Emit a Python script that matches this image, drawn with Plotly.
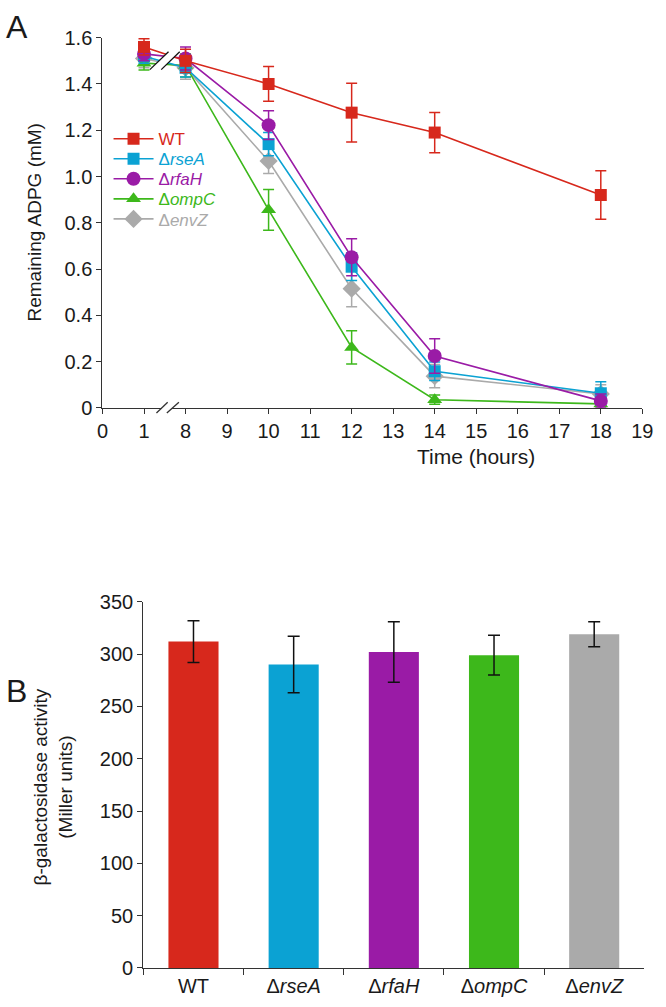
import plotly.graph_objects as go

# ---------------- data ----------------
x_categories = ["0", "1", "8", "9", "10", "11", "12", "13", "14", "15", "16", "17", "18", "19"]
times = ["1", "8", "10", "12", "14", "18"]

wt = [1.56, 1.50, 1.40, 1.276, 1.19, 0.92]
wt_err = [0.035, 0.05, 0.075, 0.127, 0.087, 0.105]
rsea = [1.52, 1.47, 1.14, 0.61, 0.158, 0.063]
rsea_err = [0.03, 0.04, 0.05, 0.06, 0.04, 0.05]
rfah = [1.53, 1.51, 1.222, 0.651, 0.224, 0.03]
rfah_err = [0.03, 0.05, 0.062, 0.08, 0.075, 0.03]
ompc = [1.49, 1.48, 0.856, 0.261, 0.035, 0.017]
ompc_err = [0.03, 0.05, 0.088, 0.072, 0.02, 0.01]
envz = [1.51, 1.47, 1.067, 0.515, 0.137, 0.06]
envz_err = [0.04, 0.05, 0.054, 0.078, 0.05, 0.04]

series_names = ["WT", "Δ<i>rseA</i>", "Δ<i>rfaH</i>", "Δ<i>ompC</i>", "Δ<i>envZ</i>"]
series_values = [wt, rsea, rfah, ompc, envz]
series_errors = [wt_err, rsea_err, rfah_err, ompc_err, envz_err]
series_colors = ["#d7281c", "#0ba2d3", "#9a1ba6", "#3db81b", "#aaaaaa"]
series_symbols = ["square", "square", "circle", "triangle-up", "diamond"]
series_sizes = [12, 12, 14, 13, 14]

strains = ["WT", "Δ<i>rseA</i>", "Δ<i>rfaH</i>", "Δ<i>ompC</i>", "Δ<i>envZ</i>"]
activity = [312, 290, 302, 299, 319]
activity_err = [20, 27, 29, 19, 12]

y_top_ticks = [0, 0.2, 0.4, 0.6, 0.8, 1.0, 1.2, 1.4, 1.6]
y_top_ticktext = ["0", "0.2", "0.4", "0.6", "0.8", "1.0", "1.2", "1.4", "1.6"]
y_bot_ticks = [0, 50, 100, 150, 200, 250, 300, 350]

FONT = "Liberation Sans, Arial, sans-serif"
TXT = "#1a1a1a"
AX = "#333333"
W, H = 666, 1007

fig = go.Figure()

legend_ids = ["legend", "legend2", "legend3", "legend4", "legend5"]
# draw order: gray, green, cyan, purple, red on top
order = [4, 3, 1, 2, 0]
for i in order:
    fig.add_trace(go.Scatter(
        x=times, y=series_values[i], name=series_names[i],
        mode="lines+markers",
        line=dict(color=series_colors[i], width=1.6),
        marker=dict(symbol=series_symbols[i], size=series_sizes[i], color=series_colors[i]),
        error_y=dict(type="data", array=series_errors[i], color=series_colors[i],
                     thickness=1.5, width=5.5),
        xaxis="x", yaxis="y", legend=legend_ids[i], cliponaxis=False,
    ))

fig.add_trace(go.Bar(
    x=strains, y=activity, marker=dict(color=series_colors, line=dict(width=0)),
    width=0.5, showlegend=False,
    error_y=dict(type="data", array=activity_err, color="#111111", thickness=1.5, width=6),
    xaxis="x2", yaxis="y2",
))

top_dom = [1 - 405.7 / H, 1 - 27.3 / H]
bot_dom = [1 - 978.3 / H, 1 - 604 / H]

axis_common = dict(showline=True, linecolor=AX, linewidth=1.4, ticks="outside",
                   tickcolor=AX, tickwidth=1.4, ticklen=5, showgrid=False, zeroline=False,
                   tickfont=dict(family=FONT, size=20, color=TXT))

layout = dict(
    width=W, height=H, margin=dict(l=0, r=0, t=0, b=0),
    paper_bgcolor="white", plot_bgcolor="white",
    font=dict(family=FONT, color=TXT),
    xaxis=dict(axis_common, type="category", categoryorder="array", categoryarray=x_categories,
               tickmode="array", tickvals=x_categories, ticktext=x_categories,
               range=[0, 13], domain=[99 / W, 653 / W], anchor="y"),
    yaxis=dict(axis_common, range=[0, 1.6], tickvals=y_top_ticks, ticktext=y_top_ticktext,
               domain=top_dom, anchor="x"),
    xaxis2=dict(axis_common, type="category", categoryorder="array", categoryarray=strains,
                tickson="boundaries", ticklen=6, range=[-0.5, 4.5],
                domain=[141 / W, 655 / W], anchor="y2",
                tickfont=dict(family=FONT, size=20, color=TXT)),
    yaxis2=dict(axis_common, range=[0, 350], tickvals=y_bot_ticks, domain=bot_dom, anchor="x2"),
)

legend_y0 = 1 - 131 / H
legend_step = 20.5 / H
for k, lid in enumerate(legend_ids):
    layout[lid] = dict(x=0.158, y=legend_y0 - k * legend_step, xanchor="left", yanchor="middle",
                       bgcolor="rgba(0,0,0,0)", itemwidth=40,
                       font=dict(family=FONT, size=17, color=series_colors[k]))

fig.update_layout(**layout)

# axis break on x axis (between 1 and 8)
fig.add_shape(type="path", xref="x", yref="paper",
              path=f"M 1.30 {1-411/H} L 1.57 {1-400/H} L 1.84 {1-400/H} L 1.55 {1-411/H} Z",
              fillcolor="white", line=dict(width=0), layer="above")
fig.add_shape(type="line", xref="x", yref="paper", x0=1.30, y0=1 - 411 / H, x1=1.57, y1=1 - 400 / H,
              line=dict(color=AX, width=1.3), layer="above")
fig.add_shape(type="line", xref="x", yref="paper", x0=1.55, y0=1 - 411 / H, x1=1.84, y1=1 - 400 / H,
              line=dict(color=AX, width=1.3), layer="above")
# break marks across the data lines
fig.add_shape(type="path", xref="x", yref="y",
              path="M 1.14 1.462 L 1.59 1.539 L 1.86 1.539 L 1.415 1.462 Z",
              fillcolor="white", line=dict(width=0), layer="above")
fig.add_shape(type="line", xref="x", yref="y", x0=1.14, y0=1.462, x1=1.59, y1=1.539,
              line=dict(color="#111111", width=1.3), layer="above")
fig.add_shape(type="line", xref="x", yref="y", x0=1.415, y0=1.462, x1=1.86, y1=1.539,
              line=dict(color="#111111", width=1.3), layer="above")

ann = [
    dict(text="A", x=11 / W, y=1 - 16 / H, font=dict(size=32)),
    dict(text="B", x=11 / W, y=1 - 695 / H, font=dict(size=32)),
    dict(text="Time (hours)", x=482 / W, y=1 - 455 / H, font=dict(size=21)),
    dict(text="Remaining ADPG (mM)", x=29 / W, y=1 - 216 / H, textangle=-90, font=dict(size=19)),
    dict(text="β-galactosidase activity<br>(Miller units)", x=48 / W, y=1 - 793 / H,
         textangle=-90, font=dict(size=19)),
]
for a in ann:
    f = dict(family=FONT, color=TXT)
    f.update(a.pop("font"))
    fig.add_annotation(xref="paper", yref="paper", showarrow=False, xanchor="center",
                       yanchor="middle", font=f, **a)

fig.write_html("out.html", config={"displayModeBar": False},
               post_script="document.body.style.margin='0px';document.body.style.padding='0px';"
                           "document.documentElement.style.overflow='hidden';")
